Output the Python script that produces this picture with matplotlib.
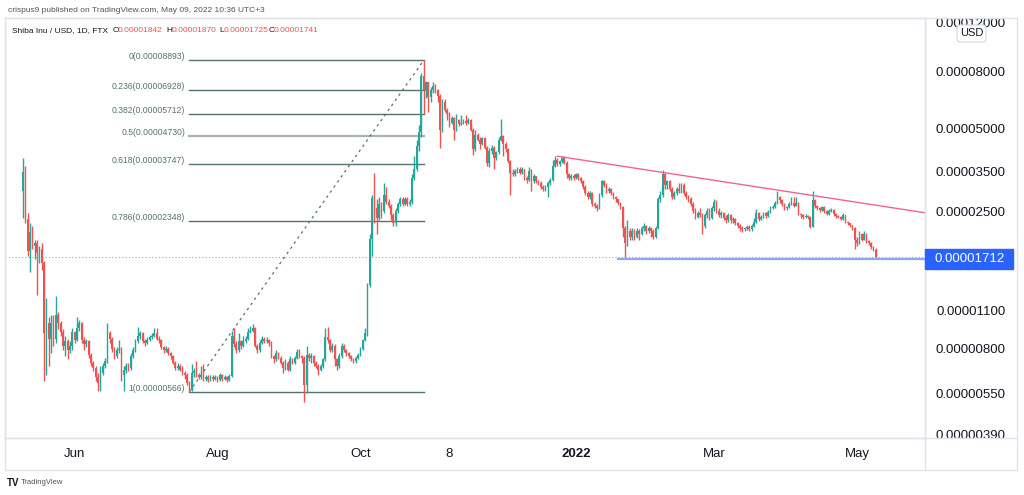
import numpy as np
import pandas as pd
import matplotlib
matplotlib.use("Agg")
import matplotlib.pyplot as plt
import matplotlib.dates as mdates
from matplotlib.patches import Rectangle, FancyBboxPatch
from matplotlib.lines import Line2D

plt.rcParams['font.family'] = ['Liberation Sans', 'DejaVu Sans']

# prices in units of 1e-8 USD, one candle per day starting 2021-05-10
SCALE = 1e-8
start_day = '2021-05-10'
first_open = 2990
closes = [
    3520, 2380, 1830, 2140, 1900, 1950, 1800, 1850, 1650, 920,
    1000, 880, 1000, 880, 1070, 1000, 930, 830, 860, 800,
    830, 930, 870, 960, 1000, 870, 840, 860, 770, 720,
    690, 640, 610, 660, 700, 730, 920, 880, 810, 760,
    800, 810, 650, 680, 700, 690, 760, 800, 860, 900,
    920, 860, 850, 870, 890, 900, 920, 880, 870, 820,
    800, 810, 780, 760, 720, 690, 700, 680, 660, 650,
    610, 575, 660, 670, 650, 640, 650, 630, 640, 625,
    640, 630, 640, 625, 650, 630, 640, 625, 645, 900,
    840, 800, 860, 830, 860, 880, 930, 940, 960, 830,
    800, 850, 880, 860, 870, 850, 760, 740, 780, 750,
    720, 690, 720, 680, 740, 720, 750, 790, 760, 750,
    600, 770, 750, 760, 720, 700, 680, 700, 740, 890,
    870, 800, 830, 740, 700, 760, 830, 800, 780, 760,
    740, 730, 750, 770, 810, 870, 920, 1370, 2020, 2840,
    2600, 2400, 2700, 2550, 2900, 2750, 2650, 2450, 2300, 2550,
    2700, 2800, 2700, 2800, 2700, 2750, 3350, 3600, 4350, 4900,
    7800, 6900, 7400, 6560, 6950, 7200, 6950, 6600, 5000, 6300,
    5900, 5700, 5300, 5500, 5000, 5400, 5250, 5300, 5350, 5300,
    5400, 5000, 4250, 4800, 4600, 4450, 4650, 4300, 3800, 4200,
    4300, 3950, 4150, 4600, 4750, 4450, 4250, 3850, 3500, 3450,
    3550, 3600, 3500, 3600, 3350, 3300, 3550, 3250, 3400, 3250,
    3200, 3100, 3050, 3100, 3200, 3300, 3700, 3900, 3750, 3850,
    3950, 3800, 3450, 3350, 3400, 3350, 3450, 3350, 3250, 3100,
    2950, 2850, 2950, 2700, 2650, 2600, 2900, 3250, 3150, 3000,
    3050, 2950, 2850, 2800, 2720, 2620, 2200, 1950, 2150, 2050,
    2150, 2050, 2150, 2100, 2200, 2250, 2150, 2200, 2150, 2050,
    2200, 2800, 2900, 3450, 3150, 3250, 3050, 2850, 2950, 3050,
    3000, 3150, 2950, 2850, 2800, 2700, 2550, 2420, 2500, 2450,
    2250, 2450, 2550, 2400, 2600, 2750, 2550, 2450, 2500, 2400,
    2350, 2450, 2350, 2380, 2300, 2250, 2200, 2180, 2200, 2230,
    2180, 2250, 2320, 2500, 2380, 2420, 2500, 2430, 2520, 2600,
    2620, 2720, 2860, 2780, 2700, 2600, 2620, 2700, 2720, 2650,
    2710, 2480, 2450, 2420, 2440, 2420, 2230, 2780, 2650, 2600,
    2560, 2620, 2540, 2480, 2550, 2560, 2470, 2430, 2420, 2380,
    2450, 2320, 2300, 2260, 2200, 2000, 1950, 2100, 2000, 2100,
    1980, 1950, 1880, 1842, 1741,
]
highs = [
    3950, 3700, 2500, 2300, 2250, 2000, 2000, 1900, 1950, 1680,
    1230, 1050, 1070, 1070, 1250, 1100, 1020, 950, 900, 880,
    860, 960, 940, 1050, 1030, 1010, 890, 880, 870, 780,
    730, 700, 660, 700, 720, 750, 1000, 940, 890, 820,
    820, 870, 820, 700, 720, 720, 780, 820, 880, 970,
    940, 930, 880, 890, 910, 920, 960, 960, 900, 880,
    830, 830, 820, 790, 770, 730, 720, 710, 700, 670,
    660, 620, 710, 690, 730, 660, 700, 710, 650, 650,
    650, 650, 650, 645, 660, 655, 650, 645, 655, 940,
    960, 860, 920, 870, 900, 900, 960, 980, 990, 970,
    840, 870, 900, 890, 890, 880, 860, 770, 800, 790,
    760, 730, 740, 730, 760, 750, 760, 810, 810, 770,
    760, 830, 780, 780, 770, 730, 710, 710, 750, 960,
    970, 880, 850, 840, 750, 780, 850, 840, 810, 790,
    770, 750, 760, 780, 820, 880, 960, 1400, 2100, 2900,
    3500, 2800, 2850, 2750, 3200, 3100, 2800, 2700, 2500, 2600,
    2750, 2850, 2850, 2850, 2850, 2800, 3450, 4000, 4600, 5200,
    8000, 8893, 7500, 7450, 7100, 7400, 7300, 7000, 6700, 6450,
    6450, 6000, 5800, 5600, 5550, 5700, 5450, 5650, 5450, 5650,
    5500, 5450, 5050, 5000, 4850, 4700, 4700, 4700, 4350, 4300,
    4400, 4350, 4200, 4700, 5450, 4800, 4500, 4300, 3900, 3600,
    3600, 3650, 3650, 3650, 3600, 3400, 3650, 3600, 3450, 3400,
    3300, 3250, 3150, 3150, 3250, 3350, 3900, 4000, 3950, 3900,
    4020, 4020, 3850, 3500, 3450, 3450, 3500, 3480, 3380, 3280,
    3150, 3000, 3000, 2980, 2750, 2700, 2950, 3300, 3300, 3200,
    3100, 3080, 2980, 2880, 2820, 2750, 2650, 2250, 2350, 2200,
    2200, 2180, 2200, 2180, 2250, 2300, 2270, 2250, 2230, 2180,
    2250, 2850, 3000, 3560, 3500, 3300, 3280, 3100, 3000, 3100,
    3200, 3200, 3200, 3000, 2900, 2850, 2750, 2600, 2550, 2600,
    2500, 2500, 2600, 2600, 2650, 2800, 2780, 2600, 2550, 2530,
    2450, 2500, 2480, 2420, 2400, 2320, 2280, 2240, 2230, 2260,
    2260, 2280, 2400, 2580, 2520, 2450, 2520, 2520, 2560, 2640,
    2680, 2760, 3000, 2880, 2800, 2720, 2660, 2730, 2860, 2860,
    2860, 2730, 2500, 2480, 2470, 2460, 2440, 3000, 2800, 2680,
    2620, 2650, 2640, 2560, 2580, 2600, 2580, 2490, 2450, 2440,
    2500, 2460, 2340, 2310, 2270, 2220, 2050, 2150, 2120, 2150,
    2110, 2000, 1960, 1900, 1870,
]
lows = [
    2400, 2300, 1750, 1530, 1850, 1700, 1260, 1650, 1550, 620,
    650, 700, 780, 830, 850, 950, 900, 800, 760, 740,
    780, 800, 850, 860, 940, 850, 800, 820, 750, 700,
    670, 620, 570, 570, 650, 690, 720, 850, 790, 740,
    750, 780, 620, 570, 660, 670, 680, 750, 790, 850,
    880, 850, 830, 840, 860, 880, 890, 870, 850, 810,
    780, 790, 770, 740, 710, 680, 680, 670, 650, 630,
    600, 566, 570, 640, 640, 630, 630, 620, 620, 615,
    620, 620, 625, 615, 620, 620, 625, 615, 620, 640,
    820, 780, 790, 810, 820, 850, 870, 920, 930, 820,
    780, 790, 840, 850, 850, 830, 750, 720, 730, 740,
    710, 660, 680, 670, 670, 710, 710, 740, 750, 720,
    520, 560, 730, 720, 700, 690, 650, 670, 690, 730,
    850, 790, 790, 700, 680, 690, 750, 790, 760, 750,
    730, 720, 720, 740, 760, 800, 860, 900, 1350, 1750,
    2300, 2100, 2350, 2400, 2500, 2700, 2600, 2350, 2250, 2250,
    2500, 2650, 2650, 2680, 2650, 2650, 2700, 3300, 3550, 4200,
    4700, 5700, 6500, 5800, 6300, 6800, 6800, 6300, 4300, 4900,
    5800, 5400, 5100, 5250, 4600, 4950, 5150, 5200, 5250, 5200,
    5250, 4950, 4050, 4200, 4550, 4250, 4400, 4250, 3700, 3650,
    4100, 3600, 3900, 4100, 4550, 4000, 4150, 3800, 2900, 3400,
    3400, 3500, 3450, 3450, 3300, 3200, 3250, 3000, 3200, 3200,
    3150, 3050, 3000, 3000, 2850, 3150, 3250, 3650, 3700, 3700,
    3800, 3750, 3350, 3300, 3300, 3300, 3330, 3300, 3200, 3050,
    2900, 2800, 2800, 2650, 2600, 2550, 2580, 2850, 3100, 2950,
    2950, 2900, 2800, 2750, 2680, 2580, 2050, 1720, 1900, 2000,
    2000, 2000, 2030, 2000, 2080, 2150, 2100, 2120, 2050, 2020,
    2030, 2180, 2750, 2850, 3050, 3050, 3000, 2800, 2820, 2900,
    2950, 2950, 2900, 2800, 2750, 2650, 2500, 2380, 2400, 2420,
    2100, 2200, 2400, 2350, 2380, 2550, 2500, 2420, 2400, 2350,
    2300, 2320, 2300, 2300, 2260, 2200, 2150, 2130, 2150, 2170,
    2150, 2160, 2230, 2300, 2340, 2350, 2400, 2400, 2420, 2500,
    2580, 2600, 2700, 2720, 2660, 2560, 2560, 2600, 2680, 2620,
    2640, 2450, 2400, 2380, 2400, 2380, 2200, 2220, 2600, 2570,
    2520, 2540, 2500, 2450, 2460, 2520, 2440, 2400, 2390, 2350,
    2360, 2300, 2270, 2230, 2170, 1860, 1900, 1940, 1980, 1990,
    1950, 1920, 1860, 1820, 1725,
]

# fibonacci retracement drawing
fib_labels = ['0', '0.236', '0.382', '0.5', '0.618', '0.786', '1']
fib_values = [8893, 6928, 5712, 4730, 3747, 2348, 566]
fib_start, fib_end = '2021-07-20', '2021-10-28'

# trend lines
trend_dates = ['2021-12-24', '2022-05-30']
trend_prices = [4010, 2505]
support_dates = ['2022-01-19', '2022-05-30']
support_price = 1712
last_price = 1741

price_ticks = [12000, 8000, 5000, 3500, 2500, 1100, 800, 550, 390]
time_ticks = ['2021-06-01', '2021-08-01', '2021-10-01', '2021-11-08',
              '2022-01-01', '2022-03-01', '2022-05-01']
time_labels = ['Jun', 'Aug', 'Oct', '8', '2022', 'Mar', 'May']

UP, DOWN = '#26a69a', '#ef5350'
TXT = '#131722'
GRID = '#e0e3eb'
FIB = '#56736b'

W, H = 1024, 495
fig = plt.figure(figsize=(W / 100, H / 100), dpi=100)


def fx(px):
    return px / W


def fy(py):
    return 1 - py / H


ax = fig.add_axes([fx(5), fy(438), fx(925) - fx(5), fy(18) - fy(438)])

dates = pd.date_range(start_day, periods=len(closes), freq='D')
x = mdates.date2num(dates)
c = np.array(closes) * SCALE
o = np.array([first_open] + closes[:-1]) * SCALE
hi = np.array(highs) * SCALE
lo = np.array(lows) * SCALE
cols = np.where(c >= o, UP, DOWN)

ax.vlines(x, lo, hi, colors=cols, lw=1.0, zorder=3)
ax.bar(x, np.abs(c - o), bottom=np.minimum(o, c), width=0.72,
       color=cols, linewidth=0, zorder=4)

ax.set_yscale('log')
ymin, ymax = 3.85e-6, 1.265e-4
ax.set_ylim(ymin, ymax)
ax.set_xlim(x[0] - 7.7, x[0] + 385)
ax.tick_params(axis='y', which='both', left=False, right=False,
               labelleft=False, labelright=False)
ax.yaxis.set_minor_locator(matplotlib.ticker.NullLocator())

tx = mdates.date2num(pd.to_datetime(time_ticks))
ax.set_xticks(tx)
ax.set_xticklabels(time_labels)
ax.tick_params(axis='x', length=0, pad=7, labelsize=9.5, colors=TXT)
for lab in ax.get_xticklabels():
    if lab.get_text() == '2022':
        lab.set_fontweight('bold')
for sp in ax.spines.values():
    sp.set_color(GRID)
    sp.set_linewidth(1)

# fibonacci levels
f0, f1 = mdates.date2num(pd.to_datetime([fib_start, fib_end]))
for lab, v in zip(fib_labels, fib_values):
    lc = '#a9b4b1' if lab == '0.5' else FIB
    lw = 1.6 if lab == '0.5' else 1.0
    ax.plot([f0, f1], [v * SCALE, v * SCALE], color=lc, lw=lw, zorder=2)
    ax.annotate('%s(%.8f)' % (lab, v * SCALE), xy=(f0, v * SCALE),
                xytext=(-3, 2.5), textcoords='offset points',
                ha='right', va='center', fontsize=6.2, color=FIB)
ax.plot([f0, f1], [fib_values[-1] * SCALE, fib_values[0] * SCALE],
        color='#5b6f6b', lw=0.9, ls=(0, (2, 3)), zorder=2)

td = mdates.date2num(pd.to_datetime(trend_dates))
ax.plot(td, np.array(trend_prices) * SCALE, color='#f06595', lw=1.0, zorder=5)
sd = mdates.date2num(pd.to_datetime(support_dates))
ax.plot(sd, [support_price * SCALE] * 2, color='#8fa6f5', lw=1.6, zorder=5)
ax.axhline(last_price * SCALE, color=DOWN, lw=0.8, ls=(0, (1, 2)),
           alpha=0.7, zorder=1)

# price scale
pax = fig.add_axes([fx(925), fy(438), fx(1017) - fx(925), fy(18) - fy(438)])
pax.set_yscale('log')
pax.set_ylim(ymin, ymax)
pax.set_xlim(0, 1)
pax.axis('off')
for p in price_ticks:
    pax.text(0.5, p * SCALE, '%.8f' % (p * SCALE), ha='center', va='center',
             fontsize=9.5, color=TXT, clip_on=True)

yp = pax.transData.transform((0, support_price * SCALE))[1]
fig.patches.append(Rectangle((925, yp - 10), 88, 20, transform=None,
                             color='#2962ff', zorder=10))
fig.text(fx(970), yp / H, '%.8f' % (support_price * SCALE), ha='center',
         va='center', fontsize=9.5, color='white', zorder=11)

fig.patches.append(FancyBboxPatch((957, H - 42), 29, 17, transform=None,
                                  boxstyle='round,pad=0,rounding_size=3',
                                  fc='white', ec='#d1d4dc', lw=0.8, zorder=10))
fig.text(fx(971.5), fy(33.5), 'USD', ha='center', va='center', fontsize=8,
         color=TXT, zorder=11)

# panel frame and separators
fig.patches.append(Rectangle((5, H - 470), 1012, 452, transform=None,
                             fill=False, ec=GRID, lw=1))
fig.lines.append(Line2D([925, 925], [H - 470, H - 18], transform=None,
                        color=GRID, lw=1))
fig.lines.append(Line2D([5, 1017], [H - 438, H - 438], transform=None,
                        color=GRID, lw=1))

# header
fig.text(fx(8), fy(10), 'crispus9 published on TradingView.com, May 09, 2022 10:36 UTC+3',
         fontsize=6, color='#50535e', va='center')
fig.text(fx(12.5), fy(30.5), 'Shiba Inu / USD, 1D, FTX', fontsize=6,
         color=TXT, va='center')
ohlc = [('O', 1842, 113, 118), ('H', 1870, 166, 171.5),
        ('L', 1725, 219.5, 224), ('C', 1741, 268.5, 274)]
for k, v, kx, vx in ohlc:
    fig.text(fx(kx), fy(30.5), k, fontsize=6, color=TXT, va='center')
    fig.text(fx(vx), fy(30.5), '%.8f' % (v * SCALE), fontsize=6,
             color=DOWN, va='center')

# footer logo
fig.text(fx(7), fy(483), 'TV', fontsize=7, fontweight='bold', color=TXT,
         va='center')
fig.text(fx(21), fy(483), 'TradingView', fontsize=5.5, color='#50535e',
         va='center')

fig.savefig('out.png', dpi=100)
